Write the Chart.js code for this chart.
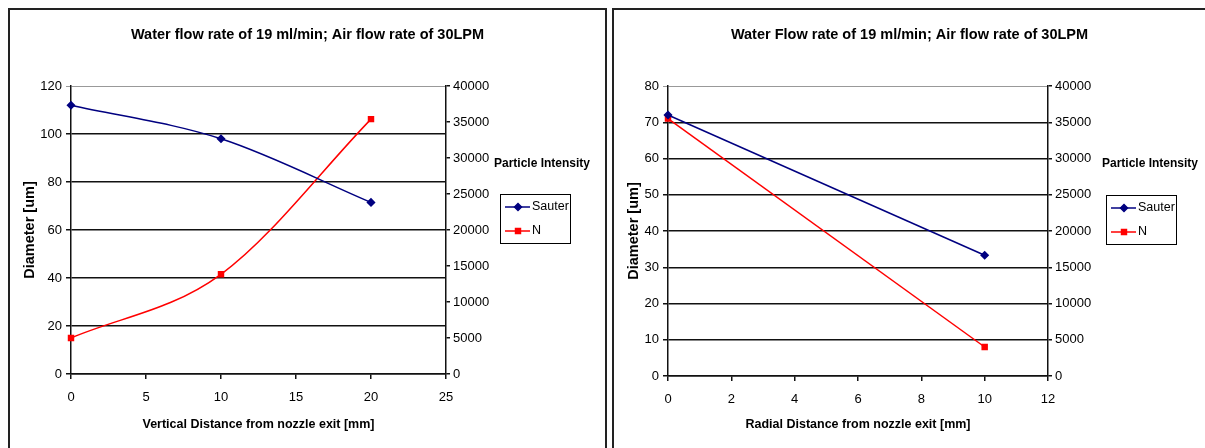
<!DOCTYPE html>
<html>
<head>
<meta charset="utf-8">
<script src="https://cdn.jsdelivr.net/npm/chart.js@4.4.1/dist/chart.umd.min.js"></script>
<style>
  body { margin: 0; background: #fff; width: 1205px; height: 448px; overflow: hidden; position: relative; }
  .panel { position: absolute; top: 8px; height: 460px; border-top: 2px solid #222; border-left: 2px solid #222; }
  #leftPanel { left: 8px; width: 595px; border-right: 2px solid #222; }
  #rightPanel { left: 612px; width: 600px; }
  canvas { position: absolute; left: 0; top: 0; }
</style>
</head>
<body>
<div class="panel" id="leftPanel"><canvas id="leftChart" width="595" height="438"></canvas></div>
<div class="panel" id="rightPanel"><canvas id="rightChart" width="591" height="438"></canvas></div>
<script>
// Vertical profile (left chart)
const vertDistance = [0, 10, 20];
const vertSauter = [112, 98, 71.5];
const vertN = [5000, 13850, 35400];

// Radial profile (right chart)
const radDistance = [0, 10];
const radSauter = [72, 33.3];
const radN = [35500, 4000];

const seriesNames = ['Sauter', 'N'];
const FONT = "'Liberation Sans', Arial, sans-serif";

function toPoints(xs, ys) {
    return xs.map((x, i) => ({ x: x, y: ys[i] }));
}

// draws "Particle Intensity" and the Excel-style legend box to the right of the plot
const sideLegend = {
    id: 'sideLegend',
    afterDraw(chart, args, opts) {
        const ctx = chart.ctx;
        const area = chart.chartArea;
        ctx.save();
        ctx.fillStyle = '#000';
        ctx.font = 'bold 12px ' + FONT;
        ctx.textBaseline = 'middle';
        ctx.textAlign = 'left';
        ctx.fillText('Particle Intensity', area.right + opts.textDx, 154);

        const bx = area.right + opts.boxDx, by = opts.boxTop, bw = 70, bh = 49;
        ctx.strokeStyle = '#000';
        ctx.lineWidth = 1;
        ctx.strokeRect(bx + 0.5, by + 0.5, bw, bh);

        chart.data.datasets.forEach((ds, i) => {
            const cy = by + 13 + i * 24;
            ctx.strokeStyle = ds.borderColor;
            ctx.lineWidth = 1.5;
            ctx.beginPath();
            ctx.moveTo(bx + 5, cy);
            ctx.lineTo(bx + 30, cy);
            ctx.stroke();
            ctx.fillStyle = ds.backgroundColor;
            Chart.helpers.drawPoint(ctx, {
                pointStyle: ds.pointStyle, radius: 3.5, rotation: 0, borderWidth: 1
            }, bx + 18, cy);
            ctx.fillStyle = '#000';
            ctx.font = '12.5px ' + FONT;
            ctx.fillText(ds.label, bx + 32, cy);
        });
        ctx.restore();
    }
};

function makeChart(id, cfg) {
    const isTop = (c) => c.tick && c.tick.value === cfg.yMax;
    return new Chart(document.getElementById(id), {
        type: 'line',
        data: {
            datasets: [
                {
                    label: seriesNames[0],
                    data: toPoints(cfg.x, cfg.sauter),
                    yAxisID: 'y',
                    borderColor: '#000080',
                    backgroundColor: '#000080',
                    borderWidth: 1.5,
                    pointStyle: 'rectRot',
                    pointRadius: 3.5,
                    clip: false,
                    cubicInterpolationMode: cfg.smooth ? 'monotone' : 'default'
                },
                {
                    label: seriesNames[1],
                    data: toPoints(cfg.x, cfg.n),
                    yAxisID: 'y1',
                    borderColor: '#ff0000',
                    backgroundColor: '#ff0000',
                    borderWidth: 1.5,
                    pointStyle: 'rect',
                    pointRadius: 3.5,
                    clip: false,
                    cubicInterpolationMode: cfg.smooth ? 'monotone' : 'default'
                }
            ]
        },
        options: {
            responsive: false,
            animation: false,
            layout: { padding: 0 },
            plugins: {
                legend: { display: false },
                tooltip: { enabled: false },
                title: {
                    display: true,
                    text: cfg.title,
                    color: '#000',
                    font: { family: FONT, size: 14.5, weight: 'bold' },
                    padding: { top: 16, bottom: 42.6 }
                },
                sideLegend: cfg.legend
            },
            scales: {
                x: {
                    type: 'linear',
                    min: 0, max: cfg.xMax,
                    ticks: { stepSize: cfg.xStep, color: '#000', padding: 11, font: { family: FONT, size: 13 } },
                    grid: { drawOnChartArea: false, drawTicks: true, tickLength: 5, color: '#111', lineWidth: 1.5 },
                    border: { color: '#111', width: 1.5 },
                    title: {
                        display: true, text: cfg.xTitle, color: '#000',
                        font: { family: FONT, size: 12.5, weight: 'bold' },
                        padding: { top: 0, bottom: 16 }
                    },
                    afterFit: (s) => { s.height = cfg.xHeight; }
                },
                y: {
                    position: 'left',
                    min: 0, max: cfg.yMax,
                    ticks: { stepSize: cfg.yStep, color: '#000', padding: 4, font: { family: FONT, size: 13 } },
                    grid: {
                        color: (c) => isTop(c) ? '#999' : '#111',
                        lineWidth: (c) => isTop(c) ? 1 : 1.5,
                        tickLength: 5
                    },
                    border: { color: '#111', width: 1.5 },
                    title: {
                        display: true, text: 'Diameter [um]', color: '#000',
                        font: { family: FONT, size: 14.5, weight: 'bold' },
                        padding: { top: 11, bottom: 0 }
                    },
                    afterFit: (s) => { s.width = cfg.yWidth; }
                },
                y1: {
                    position: 'right',
                    min: 0, max: 40000,
                    ticks: {
                        stepSize: 5000, color: '#000', padding: 3, font: { family: FONT, size: 13 },
                        callback: (v) => String(v)
                    },
                    grid: { drawOnChartArea: false, tickLength: 4, color: '#111', lineWidth: 1.5 },
                    border: { color: '#111', width: 1.5 },
                    afterFit: (s) => { s.width = cfg.y1Width; }
                }
            }
        },
        plugins: [sideLegend]
    });
}

makeChart('leftChart', {
    title: 'Water flow rate of 19 ml/min; Air flow rate of 30LPM',
    xTitle: 'Vertical Distance from nozzle exit [mm]',
    x: vertDistance, sauter: vertSauter, n: vertN,
    xMax: 25, xStep: 5, yMax: 120, yStep: 20,
    smooth: true,
    xHeight: 74, yWidth: 61, y1Width: 159,
    legend: { textDx: 48, boxDx: 54, boxTop: 184 }
});

makeChart('rightChart', {
    title: 'Water Flow rate of 19 ml/min; Air flow rate of 30LPM',
    xTitle: 'Radial Distance from nozzle exit [mm]',
    x: radDistance, sauter: radSauter, n: radN,
    xMax: 12, xStep: 2, yMax: 80, yStep: 10,
    smooth: false,
    xHeight: 72, yWidth: 54, y1Width: 157,
    legend: { textDx: 54, boxDx: 58, boxTop: 185 }
});
</script>
</body>
</html>
